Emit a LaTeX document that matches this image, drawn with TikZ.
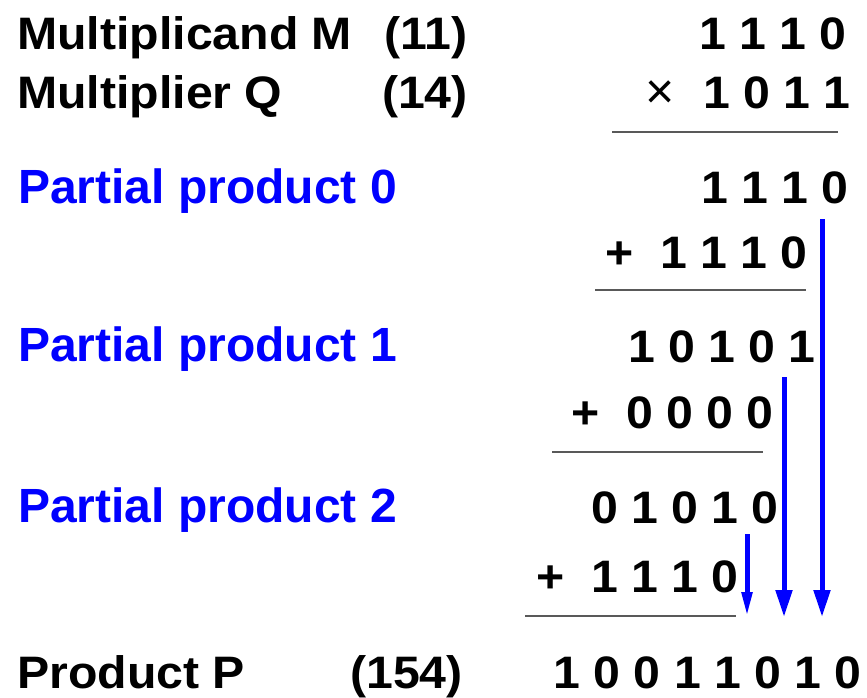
\documentclass[tikz,border=0pt]{standalone}
\usepackage{fontspec}
\setmainfont{Liberation Sans}
\newfontfamily\widefont{Liberation Sans}[FakeStretch=1.06]
\usetikzlibrary{arrows.meta}
\definecolor{pblue}{RGB}{0,0,255}
\tikzset{
  lbl/.style={inner sep=0pt, anchor=base west, font=\widefont\fontsize{45.5}{50}\selectfont\bfseries},
  num/.style={inner sep=0pt, anchor=base east, font=\widefont\fontsize{45.5}{50}\selectfont\bfseries},
  plbl/.style={inner sep=0pt, anchor=base west, text=pblue, font=\fontsize{48}{52}\selectfont\bfseries},
  sumrule/.style={draw=black!65, line width=1.6pt},
  carry/.style={draw=pblue, line width=5pt, -{Triangle[length=27pt,width=16pt]}},
  carrynarrow/.style={carry, -{Triangle[length=25pt,width=10pt]}},
}
\begin{document}
\begin{tikzpicture}[x=1pt,y=-1pt]
\useasboundingbox (0,0) rectangle (867,697);

% operands
\node[lbl] (mlbl) at (17,49) {Multiplicand M};
\node[num] (mdec) at (468,49) {(11)};
\node[num] (mbin) at (847,49) {1 1 1 0};
\node[lbl] (qlbl) at (17,108) {Multiplier Q};
\node[num] (qdec) at (468,108) {(14)};
\node[num] (qbin) at (851,108) {1 0 1 1};
\node[inner sep=0pt, anchor=base west, font=\fontsize{50}{54}\selectfont] (times) at (645,108) {×};
\draw[sumrule] (612,132) -- (838,132);

% partial product 0
\node[plbl] (pp0lbl) at (18,203) {Partial product 0};
\node[num] (pp0) at (849,203) {1 1 1 0};
\node[num] (add0) at (808,268) {+\ \ 1 1 1 0};
\draw[sumrule] (595,290) -- (806,290);

% partial product 1
\node[plbl] (pp1lbl) at (18,361) {Partial product 1};
\node[num] (pp1) at (816,362) {1 0 1 0 1};
\node[num] (add1) at (774,428) {+\ \ 0 0 0 0};
\draw[sumrule] (552,452) -- (763,452);

% partial product 2
\node[plbl] (pp2lbl) at (18,522) {Partial product 2};
\node[num] (pp2) at (779,523) {0 1 0 1 0};
\node[num] (add2) at (739,592) {+\ \ 1 1 1 0};
\draw[sumrule] (525,616) -- (736,616);

% product
\node[lbl] (plbl) at (17,688) {Product P};
\node[num] (pdec) at (463,688) {(154)};
\node[num] (pbin) at (862,688) {1 0 0 1 1 0 1 0};

% bits shifted down into the product
\coordinate (c0s) at (822,219);
\coordinate (c0e) at (822,617);
\coordinate (c1s) at (784,377);
\coordinate (c1e) at (784,617);
\coordinate (c2s) at (747,534);
\coordinate (c2e) at (747,617);
\draw[carry] (c0s) -- (c0e);
\draw[carry] (c1s) -- (c1e);
\draw[carrynarrow] (c2s) -- (c2e);
\end{tikzpicture}
\end{document}
